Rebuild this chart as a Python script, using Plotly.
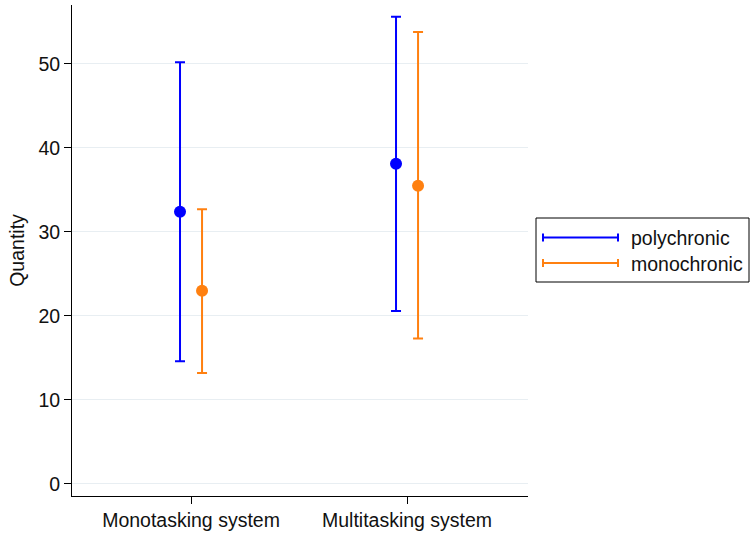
import plotly.graph_objects as go

categories = ["Monotasking system", "Multitasking system"]
series_names = ["polychronic", "monochronic"]
means = {"polychronic": [32.4, 38.1], "monochronic": [23.0, 35.5]}
lowers = {"polychronic": [14.6, 20.6], "monochronic": [13.2, 17.3]}
uppers = {"polychronic": [50.2, 55.6], "monochronic": [32.7, 53.8]}
y_ticks = [0, 10, 20, 30, 40, 50]

colors = {"polychronic": "#0000ff", "monochronic": "#ff8010"}
offsets = {"polychronic": -0.051, "monochronic": 0.051}
FONT = "Liberation Sans, Arial, sans-serif"
FS = 19.5

fig = go.Figure()
for name in series_names:
    xs = [i + offsets[name] for i in range(len(categories))]
    m = means[name]
    up = [u - v for u, v in zip(uppers[name], m)]
    dn = [v - l for v, l in zip(m, lowers[name])]
    fig.add_trace(go.Scatter(
        x=xs, y=m, mode="markers", name=name, showlegend=False,
        marker=dict(color=colors[name], size=12),
        error_y=dict(type="data", symmetric=False, array=up, arrayminus=dn,
                     color=colors[name], thickness=2, width=5),
    ))

W_PLOT = 456
H_PLOT = 491
def px_x(px):
    return (px - 72) / W_PLOT
def px_y(py):
    return (496 - py) / H_PLOT

shapes = [dict(type="rect", xref="paper", yref="paper",
               x0=px_x(536), x1=px_x(749), y0=px_y(282), y1=px_y(218),
               line=dict(color="black", width=1), fillcolor="white")]
annotations = []
leg_y = [237.5, 263]
cap = 4 / H_PLOT
for name, ly in zip(series_names, leg_y):
    c = colors[name]
    yy = px_y(ly)
    shapes.append(dict(type="line", xref="paper", yref="paper",
                       x0=px_x(543), x1=px_x(618), y0=yy, y1=yy,
                       line=dict(color=c, width=2)))
    for xp in (543, 618):
        shapes.append(dict(type="line", xref="paper", yref="paper",
                           x0=px_x(xp), x1=px_x(xp), y0=yy - cap, y1=yy + cap,
                           line=dict(color=c, width=2)))
    annotations.append(dict(xref="paper", yref="paper", x=px_x(629), y=px_y(ly + 1),
                            xanchor="left", yanchor="middle", showarrow=False,
                            text=name, font=dict(family=FONT, size=FS, color="#111111")))

fig.update_layout(
    width=750, height=536,
    margin=dict(l=72, r=222, t=5, b=40),
    plot_bgcolor="white", paper_bgcolor="white",
    font=dict(family=FONT, size=FS, color="#111111"),
    showlegend=False,
    shapes=shapes, annotations=annotations,
    xaxis=dict(range=[-0.551, 1.56], tickvals=list(range(len(categories))),
               ticktext=categories, showgrid=False, zeroline=False,
               showline=True, linecolor="black", linewidth=1,
               ticks="outside", ticklen=7, tickcolor="black",
               tickfont=dict(family=FONT, size=FS, color="#111111")),
    yaxis=dict(range=[-1.43, 57.0], tickvals=y_ticks, showgrid=True,
               gridcolor="#e8eef2", gridwidth=1, zeroline=False,
               showline=True, linecolor="black", linewidth=1,
               ticks="outside", ticklen=7, tickcolor="black",
               title=dict(text="Quantity", standoff=8,
                          font=dict(family=FONT, size=FS, color="#111111")),
               tickfont=dict(family=FONT, size=FS, color="#111111")),
)

fig.write_html("out.html", config={"displayModeBar": False},
               post_script="document.body.style.margin='0';document.body.style.overflow='hidden';")
